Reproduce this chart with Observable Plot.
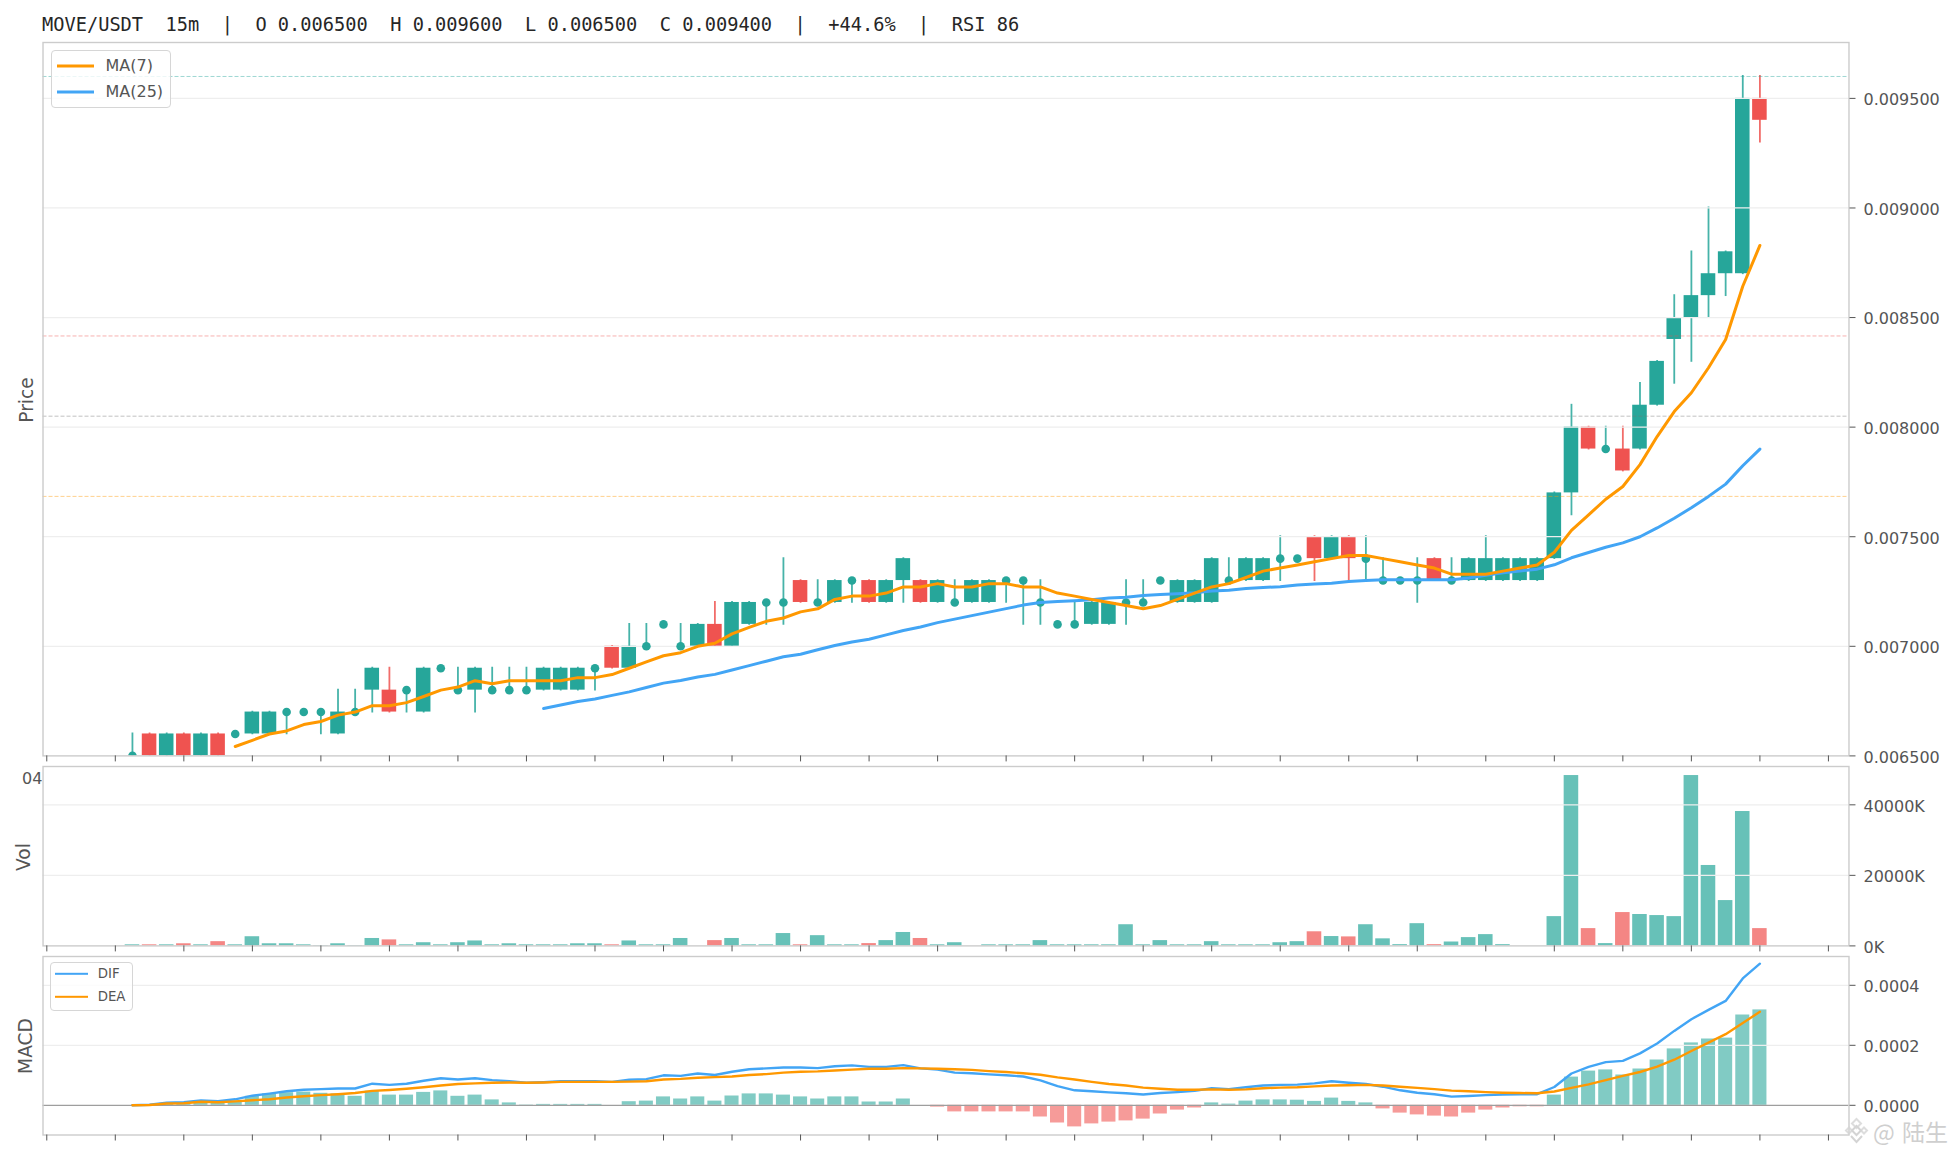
<!DOCTYPE html>
<html>
<head>
<meta charset="utf-8">
<script src="https://cdn.jsdelivr.net/npm/d3@7"></script>
<script src="https://cdn.jsdelivr.net/npm/@observablehq/plot@0.6"></script>
<style>
  html,body{margin:0;padding:0;background:#fff;width:1956px;height:1156px;overflow:hidden;font-family:"DejaVu Sans",sans-serif}
  #page{position:relative;width:1956px;height:1156px}
  #page > svg, #page > figure{position:absolute;left:0;margin:0}
  .title{position:absolute;left:42px;top:14px;font:18.67px/22px "DejaVu Sans Mono",monospace;color:#262626;white-space:pre}
  .ylab{position:absolute;font-size:18.67px;color:#555;transform:translate(-50%,-50%) rotate(-90deg);white-space:nowrap}
  .legend{position:absolute;box-sizing:border-box;border:1.6px solid #d6d6d6;border-radius:4px;background:rgba(255,255,255,.8);z-index:3}
  .legend .sw{position:absolute;height:3px;transform:translateY(-50%)}
  .legend .tx{position:absolute;color:#555;transform:translateY(-50%);white-space:nowrap;line-height:1}
  .wm{position:absolute;z-index:5;color:#cfcfcf;white-space:nowrap;font-family:"Noto Sans CJK SC","DejaVu Sans",sans-serif;line-height:1}
  .clip{position:absolute;overflow:hidden;color:#555;font-size:16px;line-height:20px;white-space:nowrap;z-index:2}
</style>
</head>
<body>
<div id="page">
  <div class="title" id="title"></div>
  <div class="ylab" style="left:25.5px;top:400px">Price</div>
  <div class="ylab" style="left:22.5px;top:857px">Vol</div>
  <div class="ylab" style="left:24.5px;top:1046px">MACD</div>
  <div class="clip" style="left:22px;top:769px;width:20px;height:20px">04</div>
  <div class="legend" style="left:50.5px;top:50px;width:120px;height:58px">
    <div class="sw" style="left:5px;top:14.5px;width:37px;background:#ff9800"></div>
    <div class="tx" style="left:54px;top:14.5px;font-size:16px">MA(7)</div>
    <div class="sw" style="left:5px;top:40.5px;width:37px;background:#42a5f5"></div>
    <div class="tx" style="left:54px;top:40.5px;font-size:16px">MA(25)</div>
  </div>
  <div class="legend" style="left:49.7px;top:961.5px;width:83px;height:49.5px">
    <div class="sw" style="left:4px;top:11.5px;width:33px;height:2.4px;background:#42a5f5"></div>
    <div class="tx" style="left:47px;top:11.5px;font-size:13.33px">DIF</div>
    <div class="sw" style="left:4px;top:34px;width:33px;height:2.4px;background:#ff9800"></div>
    <div class="tx" style="left:47px;top:34px;font-size:13.33px">DEA</div>
  </div>
  <svg style="position:absolute;left:1843px;top:1117px;z-index:5" width="27" height="27" viewBox="0 0 27 27">
    <g fill="none" stroke="#d4d4d4" stroke-width="2">
      <path d="M13.5 2 L18 6.5 L13.5 11 L9 6.5 Z" opacity=".8"/>
      <path d="M13.5 9 L18 13.5 L13.5 18 L9 13.5 Z"/>
      <path d="M6 10.5 L9 13.5 L6 16.5 L3 13.5 Z" opacity=".8"/>
      <path d="M21 10.5 L24 13.5 L21 16.5 L18 13.5 Z" opacity=".8"/>
      <path d="M8 19 L13.5 25 L19 19"/>
    </g>
  </svg>
  <div class="wm" style="left:1873px;top:1120px;font-size:23px">@</div>
  <div class="wm" style="left:1902px;top:1120px;font-size:23px">陆生</div>
</div>
<script>
const titleText = "MOVE/USDT  15m  |  O 0.006500  H 0.009600  L 0.006500  C 0.009400  |  +44.6%  |  RSI 86";
const firstIndex = 5;
const priceUnit = 1e-6;

const opens = [6500,6600,6500,6600,6500,6600,6600,6600,6600,6700,6700,6700,6600,6700,6800,6800,6800,6700,6900,6800,6800,6800,6800,6800,6800,6800,6800,6900,7000,6900,7000,7100,7000,7000,7100,7000,7100,7200,7200,7300,7200,7200,7300,7300,7200,7300,7300,7200,7200,7200,7200,7300,7300,7200,7100,7100,7100,7100,7200,7200,7300,7200,7200,7200,7300,7300,7300,7400,7400,7500,7400,7500,7400,7300,7300,7300,7400,7300,7300,7300,7300,7300,7300,7400,7700,8000,7900,7900,7900,8100,8400,8500,8600,8700,8700,9500];
const highs = [6600,6600,6600,6600,6600,6600,6600,6700,6700,6700,6700,6700,6800,6800,6900,6900,6800,6900,6900,6900,6900,6900,6900,6900,6900,6900,6900,6900,7000,7100,7100,7100,7100,7100,7200,7200,7200,7200,7400,7300,7300,7300,7300,7300,7300,7400,7300,7300,7300,7300,7300,7300,7300,7300,7100,7200,7200,7200,7300,7300,7300,7300,7300,7400,7400,7400,7400,7500,7400,7500,7500,7500,7500,7400,7300,7400,7400,7400,7400,7500,7400,7400,7400,7700,8100,8000,8000,8000,8200,8300,8600,8800,9000,8800,9600,9600];
const lows = [6500,6500,6500,6500,6500,6500,6600,6600,6600,6600,6700,6600,6600,6700,6700,6700,6700,6700,6900,6800,6700,6800,6800,6800,6800,6800,6800,6800,6900,6900,7000,7100,7000,7000,7000,7000,7100,7100,7100,7200,7200,7200,7200,7200,7200,7200,7200,7200,7200,7200,7200,7200,7100,7100,7100,7100,7100,7100,7100,7200,7300,7200,7200,7200,7300,7300,7300,7300,7400,7300,7400,7300,7300,7300,7300,7200,7300,7300,7300,7300,7300,7300,7300,7400,7600,7900,7900,7800,7900,8100,8200,8300,8500,8600,8700,9300];
const closes = [6500,6500,6600,6500,6600,6500,6600,6700,6700,6700,6700,6700,6700,6700,6900,6700,6800,6900,6900,6800,6900,6800,6800,6800,6900,6900,6900,6900,6900,7000,7000,7100,7000,7100,7000,7200,7200,7200,7200,7200,7200,7300,7300,7200,7300,7400,7200,7300,7200,7300,7300,7300,7300,7200,7100,7100,7200,7200,7200,7200,7300,7300,7300,7400,7300,7400,7400,7400,7400,7400,7500,7400,7400,7300,7300,7300,7300,7300,7400,7400,7400,7400,7400,7700,8000,7900,7900,7800,8100,8300,8500,8600,8700,8800,9500,9400];

const volumes = [300,300,300,600,300,1200,300,2600,600,600,300,100,600,100,2100,1700,300,900,300,900,1400,300,600,300,300,300,600,600,300,1400,300,300,2100,0,1500,2100,300,300,3500,300,2900,300,300,650,1500,3800,2100,300,900,0,300,300,300,1500,300,300,300,300,6000,300,1500,300,300,1200,300,300,300,900,1200,4000,2650,2550,6000,2000,350,6300,350,1100,2350,3200,350,0,0,8300,48300,4900,650,9450,8900,8600,8300,48300,22800,12850,38100,4900];

const ma7Start = 11;
const ma7 = [6543,6571,6600,6614,6643,6657,6686,6700,6729,6729,6743,6771,6800,6814,6843,6829,6843,6843,6843,6843,6857,6857,6871,6900,6929,6957,6971,7000,7014,7057,7086,7114,7129,7157,7171,7214,7229,7229,7243,7271,7271,7286,7271,7271,7286,7286,7271,7271,7243,7229,7214,7200,7186,7171,7186,7214,7243,7271,7286,7314,7343,7357,7371,7386,7400,7414,7414,7400,7386,7371,7357,7329,7329,7329,7343,7357,7371,7429,7529,7600,7671,7729,7829,7957,8071,8157,8271,8400,8643,8829];
const ma25Start = 29;
const ma25 = [6716,6732,6748,6760,6776,6792,6812,6832,6844,6860,6872,6892,6912,6932,6952,6964,6984,7004,7020,7032,7052,7072,7088,7108,7124,7140,7156,7172,7188,7200,7204,7208,7212,7220,7224,7232,7236,7240,7244,7252,7256,7264,7268,7272,7280,7284,7288,7296,7300,7304,7304,7304,7304,7304,7312,7324,7336,7344,7352,7372,7404,7428,7452,7472,7500,7540,7584,7632,7684,7740,7824,7900];

const dif = [0,2,9,10,16,14,20,32,39,47,52,54,56,56,72,68,72,82,90,86,90,84,80,75,77,80,80,80,78,85,87,100,98,106,101,112,120,123,126,126,124,130,133,128,128,134,123,119,109,107,103,100,96,83,64,50,47,43,40,36,41,44,48,57,54,60,66,68,69,73,80,75,71,62,50,42,37,29,31,34,36,37,37,61,106,128,144,148,173,206,248,287,318,348,423,472];
const dea = [0,1,6,7,12,10,13,17,20,26,30,34,37,41,48,51,55,60,66,71,73,75,76,75,76,78,78,78,78,79,80,86,88,92,94,96,101,104,109,112,113,116,119,122,122,124,123,122,120,118,114,111,107,102,93,86,78,71,66,59,55,52,52,53,52,53,57,59,60,63,66,67,68,66,62,58,54,49,47,44,42,41,40,46,58,70,84,98,111,129,152,181,209,237,274,312];
const hist = [0,2,6,5,7,8,14,30,38,42,44,40,38,30,47,34,34,43,48,30,34,18,8,1,3,3,3,3,0,12,14,28,21,28,14,31,38,38,34,28,21,28,28,11,11,21,0,-6,-22,-22,-22,-22,-22,-39,-59,-72,-62,-56,-52,-46,-29,-16,-9,8,4,14,18,18,17,13,24,13,8,-12,-26,-32,-36,-39,-26,-16,-9,-5,-5,34,94,114,118,101,121,151,188,208,221,224,301,318];

const priceTicks = [0.0065,0.0070,0.0075,0.0080,0.0085,0.0090,0.0095];
const volTicks = [0,20000,40000];
const macdTicks = [0,0.0002,0.0004];
const xTicks = d3.range(0,105,4);
const fibLevels = [
  {v:0.0096,  c:"#26a69a"},
  {v:0.008416,c:"#ef5350"},
  {v:0.00805, c:"#757575"},
  {v:0.007684,c:"#ff9800"}
];

const UP="#26a69a", DOWN="#ef5350", ORANGE="#ff9800", BLUE="#42a5f5";
const GRID="#eeeeee", SPINE="#cccccc", AXIS="#555555";
const W=1956, ML=42.5, MR=W-1848.5;
const xDomain=[-0.22,105.2];

const candles = opens.map((o,k)=>({i:k+firstIndex,o:o*priceUnit,h:highs[k]*priceUnit,l:lows[k]*priceUnit,c:closes[k]*priceUnit,v:volumes[k],
  up:closes[k]>=o, doji:closes[k]===o, dif:dif[k]*priceUnit, dea:dea[k]*priceUnit, hist:hist[k]*priceUnit}));
const ma7Rows = ma7.map((v,k)=>({i:k+ma7Start,v:v*priceUnit}));
const ma25Rows = ma25.map((v,k)=>({i:k+ma25Start,v:v*priceUnit}));
const hw=0.425;

document.getElementById("title").textContent = titleText;

function base(top,bottom,yDomain,ticks,fmt,marks){
  const height = bottom-top+12;
  const p = Plot.plot({
    width:W, height, marginLeft:ML, marginRight:MR, marginTop:1, marginBottom:11,
    x:{domain:xDomain, axis:null},
    y:{domain:yDomain, axis:null},
    style:{fontFamily:'"DejaVu Sans",sans-serif',background:"transparent",overflow:"visible"},
    marks:[
      ...marks,
      Plot.frame({stroke:SPINE,strokeWidth:1.4}),
      Plot.axisX({anchor:"bottom",ticks:xTicks,tickFormat:()=>"",tickSize:6,tickPadding:0,label:null,color:AXIS,strokeWidth:1}),
      Plot.axisY({anchor:"right",ticks,tickFormat:()=>"",tickSize:6,tickPadding:8,label:null,color:AXIS}),
      Plot.text(ticks,{y:d=>d,text:fmt,frameAnchor:"right",textAnchor:"start",dx:14.5,dy:1.7,fill:AXIS,fontSize:16})
    ]
  });
  p.style.position="absolute"; p.style.left="0"; p.style.top=(top-1)+"px";
  document.getElementById("page").appendChild(p);
}
const grid = t => Plot.ruleY(t,{stroke:GRID,strokeWidth:1.3});

base(42.3,755.7,[0.0065,0.009755],priceTicks,d=>d.toFixed(6),[
  Plot.ruleX(candles,{x:"i",y1:"l",y2:"h",stroke:d=>d.up?UP:DOWN,strokeWidth:1.8,strokeOpacity:.85,strokeLinecap:"square",clip:true}),
  Plot.rect(candles.filter(d=>!d.doji),{x1:d=>d.i-hw,x2:d=>d.i+hw,y1:"o",y2:"c",fill:d=>d.up?UP:DOWN,clip:true}),
  grid(priceTicks.slice(1)),
  Plot.dot(candles.filter(d=>d.doji),{x:"i",y:"c",r:4.3,fill:UP,clip:true}),
  Plot.ruleY(fibLevels,{y:"v",stroke:"c",strokeWidth:1,strokeOpacity:.45,strokeDasharray:"4,2"}),
  Plot.line(ma25Rows,{x:"i",y:"v",stroke:BLUE,strokeWidth:3,clip:true}),
  Plot.line(ma7Rows,{x:"i",y:"v",stroke:ORANGE,strokeWidth:3,clip:true})
]);

base(766,945.4,[0,50865],volTicks,d=>d+"K",[
  Plot.rect(candles,{x1:d=>d.i-hw,x2:d=>d.i+hw,y1:0,y2:"v",fill:d=>d.up?UP:DOWN,fillOpacity:.7}),
  grid(volTicks.slice(1))
]);

base(955.5,1134,[-0.000099,0.000496],macdTicks,d=>d.toFixed(4),[
  Plot.rect(candles,{x1:d=>d.i-0.41,x2:d=>d.i+0.41,y1:0,y2:"hist",fill:d=>d.hist>=0?UP:DOWN,fillOpacity:.58}),
  grid(macdTicks.slice(1)),
  Plot.ruleY([0],{stroke:"#9e9e9e",strokeWidth:1.3}),
  Plot.line(candles,{x:"i",y:"dif",stroke:BLUE,strokeWidth:2.4}),
  Plot.line(candles,{x:"i",y:"dea",stroke:ORANGE,strokeWidth:2.4})
]);
</script>
</body>
</html>
